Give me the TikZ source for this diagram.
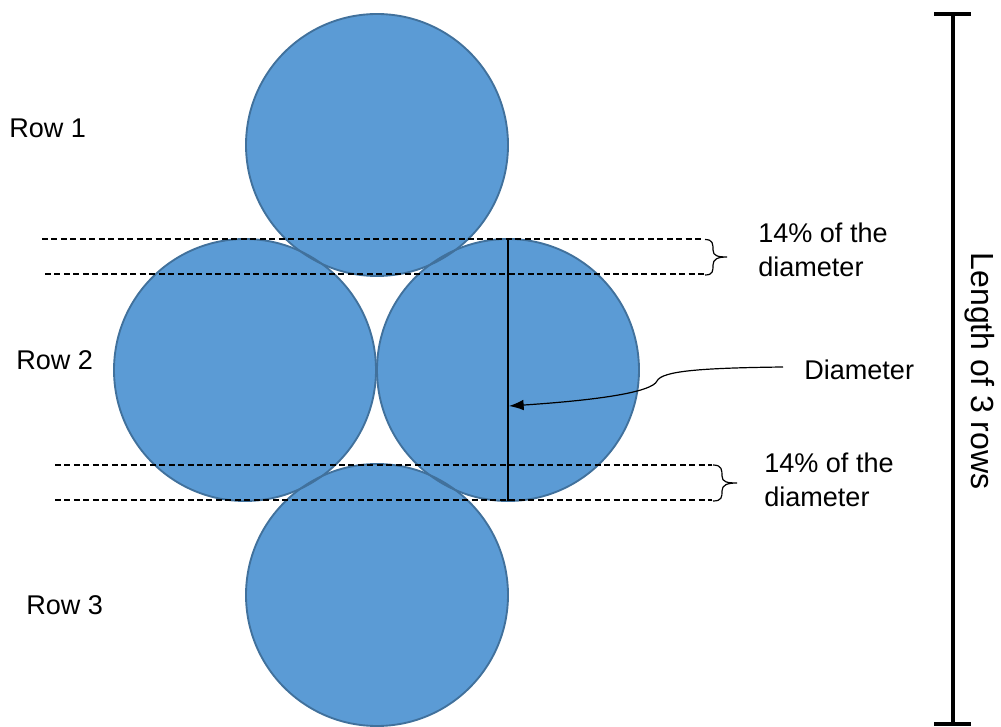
\documentclass[tikz,border=0pt]{standalone}
\usepackage{fontspec}
\setmainfont{Liberation Sans}
\usetikzlibrary{arrows.meta}
\definecolor{cfill}{RGB}{91,155,213}
\definecolor{cline}{RGB}{65,113,156}
\tikzset{
  ball/.style={circle, minimum size=196.5pt, inner sep=0pt, fill=cfill},
  ballline/.style={circle, minimum size=196.5pt, inner sep=0pt, draw=cline, line width=1.4pt},
  lbl/.style={font=\fontsize{20.3}{25.5}\selectfont, inner sep=0pt, align=left},
  guide/.style={dashed, dash pattern=on 4.5pt off 2.6pt, line width=0.9pt},
  bracestyle/.style={line width=0.9pt},
}
\begin{document}
\begin{tikzpicture}[x=0.75pt,y=-0.75pt]
\useasboundingbox (0,0) rectangle (1001,727);
% circle fills
\node[ball] (c1) at (377,145) {};
\node[ball] (c2) at (245,370) {};
\node[ball] (c3) at (508,370) {};
\node[ball] (c4) at (377,595) {};
% outlines
\node[ballline] at (c1) {};
\node[ballline] at (c2) {};
\node[ballline] at (c3) {};
\node[ballline] at (c4) {};
% dashed guides
\coordinate (g1a) at (42,239);  \coordinate (g1b) at (704,239);
\coordinate (g2a) at (45,274);  \coordinate (g2b) at (704,274);
\coordinate (g3a) at (55,465);  \coordinate (g3b) at (712,465);
\coordinate (g4a) at (55,500);  \coordinate (g4b) at (712,500);
\draw[guide] (g1a) -- (g1b);
\draw[guide] (g2a) -- (g2b);
\draw[guide] (g3a) -- (g3b);
\draw[guide] (g4a) -- (g4b);
% braces
\draw[bracestyle] (705,239.5) .. controls (713,239.5) and (713,244) .. (713,250)
  .. controls (713,256) and (718,257) .. (727,257)
  .. controls (718,257) and (713,259) .. (713,265)
  .. controls (713,271) and (713,275) .. (705,275);
\draw[bracestyle] (713,465) .. controls (722,465) and (722,470) .. (722,476)
  .. controls (722,482) and (727,483) .. (737,483)
  .. controls (727,483) and (722,485) .. (722,491)
  .. controls (722,497) and (722,501) .. (713,501);
% diameter line
\draw[line width=1.1pt] (c3.north) -- (c3.south);
\coordinate (dtip) at (509,406);
% labels
\node[lbl, anchor=west] (r1) at (9,128) {Row 1};
\node[lbl, anchor=west] (r2) at (16,360) {Row 2};
\node[lbl, anchor=west] (r3) at (26,605) {Row 3};
\node[lbl, anchor=west] (p1) at (758,250) {14\% of the\\diameter};
\node[lbl, anchor=west] (p2) at (764,480) {14\% of the\\diameter};
\node[lbl, anchor=west] (dl) at (804,370) {Diameter};
\coordinate (astart) at (783,367);
% arrow
\draw[line width=0.9pt, -{Latex[length=11pt,width=8pt]}] (astart) .. controls (700,368) and (662,371) .. (657,381)
  .. controls (652,392) and (600,400) .. (dtip);
% length bar
\coordinate (lt) at (953,14);
\coordinate (lb) at (953,724);
\draw[line width=2.3pt] (lt) -- (lb);
\draw[line width=2.3pt] (934,14) -- (971,14);
\draw[line width=2.3pt] (934,724) -- (971,724);
\node[lbl, rotate=-90, font=\fontsize{24}{28}\selectfont] (len) at (980,371) {Length of 3 rows};
\end{tikzpicture}
\end{document}
